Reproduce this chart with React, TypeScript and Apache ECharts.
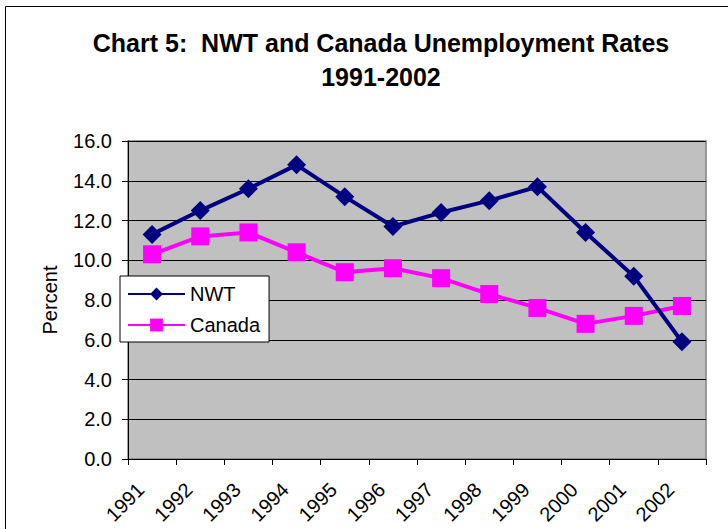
import React, { useEffect, useRef } from "react";
import * as echarts from "echarts";

const years = ["1991","1992","1993","1994","1995","1996","1997","1998","1999","2000","2001","2002"];
const nwt = [11.3, 12.5, 13.6, 14.8, 13.2, 11.7, 12.4, 13.0, 13.7, 11.4, 9.2, 5.9];
const canada = [10.3, 11.2, 11.4, 10.4, 9.4, 9.6, 9.1, 8.3, 7.6, 6.8, 7.2, 7.7];
const yTicks = { min: 0, max: 16, interval: 2 };

const FONT = "Liberation Sans, Arial, sans-serif";

export default function App() {
  const ref = useRef<HTMLDivElement>(null);
  useEffect(() => {
    if (!ref.current) return;
    const chart = echarts.init(ref.current, undefined, { renderer: "svg" });
    chart.setOption({
      animation: false,
      backgroundColor: "#ffffff",
      textStyle: { fontFamily: FONT },
      title: {
        text: "Chart 5:  NWT and Canada Unemployment Rates\n1991-2002",
        left: 376,
        top: 21,
        textAlign: "center",
        textStyle: {
          fontFamily: FONT,
          fontSize: 25,
          fontWeight: "bold",
          color: "#000",
          lineHeight: 34,
        },
      },
      graphic: [
        {
          type: "rect",
          shape: { x: 5.5, y: 6.5, width: 760, height: 560 },
          style: { fill: "none", stroke: "#000", lineWidth: 1 },
          silent: true,
          z: 100,
        },
      ],
      legend: {
        orient: "vertical",
        left: 120,
        top: 276,
        backgroundColor: "#fff",
        borderColor: "#000",
        borderWidth: 1,
        borderRadius: 0,
        padding: [8, 9, 7, 7],
        itemWidth: 57,
        itemHeight: 16,
        itemGap: 11,
        textStyle: { fontFamily: FONT, fontSize: 20, color: "#000" },
        data: ["NWT", "Canada"],
      },
      grid: {
        left: 128,
        top: 141,
        width: 578,
        height: 318,
        show: true,
        backgroundColor: "#C0C0C0",
        borderColor: "#808080",
        borderWidth: 1.5,
      },
      xAxis: {
        type: "category",
        data: years,
        boundaryGap: true,
        axisLine: { show: true, lineStyle: { color: "#000", width: 1 } },
        axisTick: { show: true, length: 6, lineStyle: { color: "#000" } },
        axisLabel: {
          rotate: 45,
          margin: 16,
          padding: [0, 16, 0, 0],
          fontFamily: FONT,
          fontSize: 20,
          color: "#000",
        },
        splitLine: { show: false },
      },
      yAxis: {
        type: "value",
        min: yTicks.min,
        max: yTicks.max,
        interval: yTicks.interval,
        name: "Percent",
        nameLocation: "middle",
        nameGap: 68,
        nameRotate: 90,
        nameTextStyle: { fontFamily: FONT, fontSize: 20, color: "#000" },
        axisLine: { show: true, lineStyle: { color: "#000", width: 1 } },
        axisTick: { show: true, length: 6, lineStyle: { color: "#000" } },
        axisLabel: {
          margin: 16,
          fontFamily: FONT,
          fontSize: 20,
          color: "#000",
          formatter: (v: number) => v.toFixed(1),
        },
        splitLine: { show: true, lineStyle: { color: "#000", width: 1 } },
      },
      series: [
        {
          name: "NWT",
          type: "line",
          data: nwt,
          symbol: "diamond",
          symbolSize: 19,
          lineStyle: { color: "#000080", width: 4 },
          itemStyle: { color: "#000080" },
          z: 3,
        },
        {
          name: "Canada",
          type: "line",
          data: canada,
          symbol: "rect",
          symbolSize: 18,
          lineStyle: { color: "#FF00FF", width: 4 },
          itemStyle: { color: "#FF00FF" },
          z: 2,
        },
      ],
    });
    return () => chart.dispose();
  }, []);
  return (
    <div
      ref={ref}
      style={{ position: "absolute", left: 0, top: 0, width: 728, height: 529 }}
    />
  );
}
